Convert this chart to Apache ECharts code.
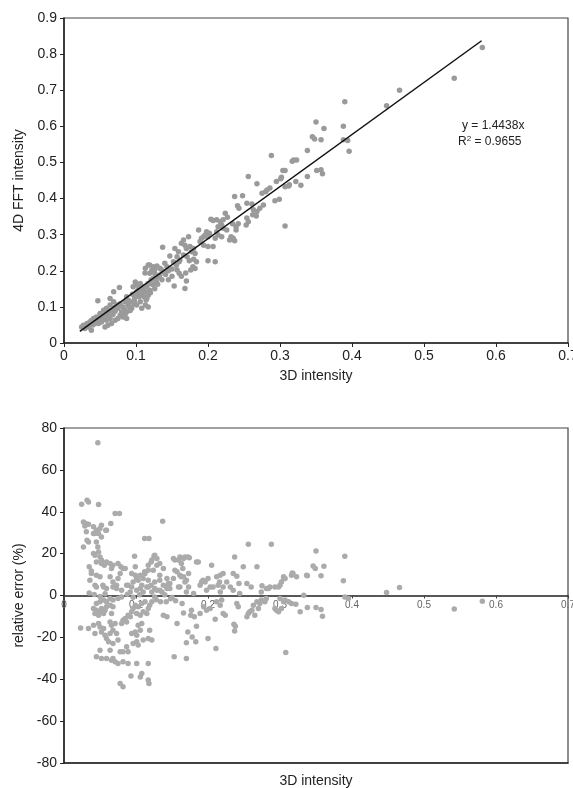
<!DOCTYPE html>
<html>
<head>
<meta charset="utf-8">
<script src="https://cdn.jsdelivr.net/npm/echarts@6/dist/echarts.min.js"></script>
<style>
html,body{margin:0;padding:0;background:#fff;overflow:hidden;}
#chart{width:573px;height:788px;}
</style>
</head>
<body>
<div id="chart"></div>
<script>
// ---- Data ----
var intensityTicksX = [0, 0.7, 0.1];        // min, max, step of the 3D intensity axis
var intensityTicksY = [0, 0.9, 0.1];        // min, max, step of the 4D FFT intensity axis
var errorTicksY = [-80, 80, 20];            // min, max, step of the relative error axis

var fitLabel = 'y = 1.4438x';
var fitR2 = '0.9655';
var fitLine = [[0.022, 0.032], [0.58, 0.837]];

var intensityPoints = [
[0.581,0.818],[0.542,0.733],[0.466,0.700],[0.448,0.657],[0.390,0.668],[0.350,0.612],[0.361,0.594],[0.388,0.600],
[0.345,0.571],[0.348,0.565],[0.357,0.563],[0.388,0.563],[0.394,0.561],[0.396,0.531],[0.338,0.533],[0.317,0.503],
[0.319,0.507],[0.323,0.507],[0.351,0.478],[0.357,0.480],[0.359,0.469],[0.338,0.461],[0.304,0.478],[0.307,0.478],
[0.322,0.447],[0.329,0.437],[0.313,0.438],[0.307,0.433],[0.302,0.459],[0.288,0.519],[0.256,0.461],[0.268,0.441],
[0.237,0.406],[0.248,0.408],[0.295,0.447],[0.301,0.455],[0.282,0.424],[0.286,0.429],[0.275,0.415],[0.280,0.419],
[0.293,0.394],[0.299,0.398],[0.307,0.324],[0.312,0.435],
[0.241,0.380],[0.243,0.373],[0.254,0.387],[0.261,0.385],[0.263,0.369],[0.268,0.364],[0.272,0.373],[0.277,0.382],
[0.254,0.346],[0.256,0.336],[0.253,0.327],[0.242,0.330],[0.239,0.322],[0.262,0.355],[0.267,0.352],[0.224,0.359],
[0.227,0.348],[0.221,0.341],[0.217,0.336],[0.212,0.341],[0.207,0.339],[0.204,0.343],[0.219,0.327],[0.214,0.322],
[0.221,0.318],[0.226,0.313],[0.234,0.330],[0.239,0.313],[0.232,0.294],[0.235,0.290],[0.230,0.285],[0.237,0.283],
[0.212,0.308],[0.214,0.299],[0.219,0.294],[0.210,0.290],[0.198,0.308],[0.202,0.304],[0.196,0.299],[0.194,0.294],
[0.200,0.294],[0.187,0.313],[0.173,0.294],[0.166,0.285],[0.163,0.276],[0.168,0.271],[0.170,0.262],[0.175,0.267],
[0.191,0.290],[0.189,0.281],[0.194,0.271],[0.180,0.262],[0.177,0.253],[0.182,0.248],[0.200,0.267],[0.207,0.267],
[0.137,0.265],[0.147,0.241],[0.154,0.262],[0.159,0.253],[0.157,0.239],[0.161,0.230],[0.152,0.225],[0.166,0.244],
[0.171,0.239],[0.174,0.228],[0.180,0.232],[0.184,0.225],[0.179,0.211],[0.182,0.206],[0.176,0.202],[0.200,0.228],
[0.210,0.225],[0.169,0.194],[0.170,0.172],[0.153,0.158],[0.168,0.151],[0.157,0.202],[0.160,0.193],[0.163,0.185],
[0.140,0.221],[0.143,0.211],[0.135,0.204],[0.138,0.197],[0.129,0.213],[0.124,0.211],[0.126,0.204],[0.122,0.202],
[0.133,0.188],[0.131,0.183],
[0.113,0.207],[0.119,0.216],[0.117,0.216],[0.133,0.207],[0.1125,0.194],[0.119,0.193],[0.126,0.193],[0.124,0.179],
[0.077,0.154],[0.069,0.142],[0.064,0.123],[0.047,0.117],[0.115,0.123],[0.117,0.100],[0.113,0.105],[0.101,0.142],
[0.106,0.132],[0.099,0.169],[0.102,0.160],[0.096,0.156],[0.106,0.165],[0.109,0.151],[0.103,0.146],[0.100,0.137],
[0.108,0.137],[0.1125,0.142],[0.115,0.156],[0.117,0.165],[0.119,0.146],[0.117,0.132],[0.114,0.119],[0.106,0.114],
[0.101,0.105],[0.108,0.096],[0.087,0.128],[0.092,0.114],[0.085,0.114],[0.089,0.105],[0.082,0.100],[0.094,0.096],
[0.087,0.086],[0.080,0.086],[0.075,0.096],[0.078,0.109],[0.073,0.105],[0.069,0.114],[0.064,0.105],[0.059,0.096],
[0.055,0.091],[0.066,0.091],[0.061,0.082],[0.057,0.077],[0.050,0.082],[0.045,0.072],[0.052,0.068],[0.041,0.068],
[0.036,0.058],[0.043,0.054],[0.032,0.054],[0.027,0.049],[0.034,0.044],[0.048,0.054],[0.052,0.058],[0.059,0.063],
[0.064,0.068],[0.078,0.077],[0.082,0.072],[0.087,0.068],[0.075,0.068],[0.071,0.063],[0.066,0.054],[0.061,0.049],
[0.057,0.044],[0.029,0.040],[0.038,0.035],[0.0245,0.044],
[0.095,0.135],[0.098,0.125],[0.104,0.128],[0.110,0.155],[0.121,0.175],[0.128,0.172],[0.123,0.162],[0.090,0.118],
[0.097,0.108],[0.071,0.088],[0.068,0.079],[0.062,0.074],[0.055,0.066],[0.050,0.063],[0.046,0.060],[0.040,0.050],
[0.031,0.046],[0.038,0.062],[0.044,0.065],[0.053,0.075],[0.058,0.086],[0.063,0.090],[0.070,0.098],[0.076,0.103],
[0.084,0.093],[0.091,0.100],[0.098,0.115],[0.111,0.128],[0.120,0.139],[0.126,0.150],[0.130,0.163],[0.136,0.175],
[0.141,0.190],[0.145,0.200],[0.150,0.205],[0.156,0.215],[0.160,0.225],[0.145,0.175],[0.150,0.185],[0.085,0.080],
[0.092,0.090]
];

var errorPoints = [
[0.047,72.9],[0.0245,43.6],[0.032,45.5],[0.034,44.7],[0.048,43.5],[0.071,39.2],[0.077,39.2],[0.137,35.5],
[0.027,35.1],[0.030,34.4],[0.034,34.0],[0.029,33.2],[0.052,33.6],[0.041,32.8],[0.045,30.4],[0.041,29.6],
[0.048,29.6],[0.052,28.0],[0.059,31.2],[0.065,34.4],[0.032,26.4],[0.027,23.2],[0.045,25.6],[0.047,23.2],
[0.112,27.2],[0.118,27.2],[0.041,20.1],[0.045,16.0],[0.050,18.4],[0.052,15.3],[0.056,14.5],[0.059,16.0],
[0.064,15.3],[0.068,14.5],[0.098,18.8],[0.125,18.9],[0.117,14.5],[0.121,16.0],[0.129,17.7],[0.035,13.7],
[0.038,11.7],[0.036,7.3],[0.045,9.7],[0.050,8.9],[0.075,15.3],[0.079,13.7],[0.082,12.9],[0.078,10.5],
[0.064,8.9],[0.068,6.5],[0.073,4.9],[0.054,4.9],[0.045,4.1],[0.094,10.5],[0.099,9.7],[0.106,9.7],
[0.112,11.3],[0.110,8.1],[0.103,7.3],[0.096,6.5],[0.089,4.9],[0.094,4.1],[0.101,2.5],[0.110,1.7],
[0.117,4.1],[0.121,4.9],[0.126,6.5],[0.133,7.3],[0.138,4.9],[0.145,5.7],[0.143,4.1],[0.136,1.7],
[0.129,2.5],[0.122,1.7],[0.152,17.7],[0.163,15.3],[0.165,12.9],[0.157,11.3],[0.161,9.7],[0.168,18.4],
[0.172,18.4],[0.163,8.9],[0.168,6.5],[0.161,4.1],[0.170,1.7],
[0.1865,16.0],[0.205,14.5],[0.193,7.3],[0.196,6.5],[0.200,8.1],[0.207,4.1],[0.189,4.9],[0.212,8.9],
[0.217,9.7],[0.221,10.5],[0.226,6.5],[0.231,4.1],[0.235,10.5],[0.237,18.4],[0.243,5.7],[0.249,13.7],
[0.254,5.7],[0.256,24.5],[0.260,4.1],[0.268,13.7],[0.274,1.7],[0.281,3.3],[0.286,4.1],[0.288,24.5],
[0.293,4.1],[0.298,4.1],[0.302,6.5],[0.305,8.9],[0.318,10.5],[0.323,8.9],[0.235,2.5],[0.244,0.9],
[0.217,1.7],[0.198,2.5],[0.180,0.9],
[0.350,21.3],[0.390,18.8],[0.346,14.1],[0.349,12.9],[0.361,14.0],[0.357,9.4],[0.338,9.4],[0.317,10.8],
[0.307,8.1],[0.388,7.0],[0.448,1.4],[0.466,3.8],[0.333,0.1],[0.390,-0.7],[0.395,-1.4],[0.542,-6.5],
[0.581,-2.7],[0.305,-3.0],[0.312,-3.0],[0.316,-3.8],[0.322,-4.2],[0.328,-7.8],[0.338,-5.7],[0.350,-5.7],
[0.357,-6.7],[0.359,-9.9],[0.302,-6.2],
[0.308,-27.2],[0.211,-25.3],[0.200,-20.5],[0.183,-22.1],[0.178,-19.8],[0.184,-14.7],[0.210,-11.3],[0.237,-16.9],
[0.236,-13.7],[0.238,-14.7],[0.224,-9.4],[0.221,-8.6],[0.203,-6.2],[0.198,-7.0],[0.194,-5.4],[0.189,-8.6],
[0.181,-10.2],[0.177,-7.0],[0.217,-4.6],[0.212,-3.0],[0.219,-2.2],[0.240,-3.8],[0.242,-5.4],[0.254,-10.2],
[0.256,-8.6],[0.258,-7.8],[0.261,-7.0],[0.265,-9.4],[0.270,-6.2],[0.263,-4.6],[0.268,-3.0],[0.272,-3.8],
[0.274,-2.2],[0.279,-3.0],[0.281,-1.4],[0.295,-7.0],[0.298,-7.8],[0.293,-6.2],[0.300,-1.4],[0.307,-2.2],
[0.240,9.2],[0.191,6.5],[0.203,4.1],[0.216,6.5],[0.214,4.9],[0.221,4.1],[0.275,4.6],[0.284,3.3],
[0.300,4.9],[0.305,8.1],[0.316,9.7],[0.337,9.7],
[0.041,-6.2],[0.045,-7.0],[0.050,-7.8],[0.043,-8.6],[0.048,-9.4],[0.052,-6.2],[0.057,-7.0],[0.055,-8.6],
[0.059,-5.4],[0.064,-4.6],[0.068,-5.4],[0.066,-8.6],[0.045,-3.8],[0.050,-3.0],[0.055,-2.2],[0.059,-3.0],
[0.064,-1.4],[0.068,-2.2],[0.075,-1.4],[0.080,-0.7],
[0.034,-15.8],[0.041,-14.2],[0.043,-18.1],[0.048,-13.4],[0.050,-15.0],[0.052,-17.4],[0.055,-15.8],[0.057,-19.0],
[0.059,-20.5],[0.064,-12.6],[0.066,-14.2],[0.068,-16.6],[0.071,-13.4],[0.073,-18.1],[0.064,-18.1],[0.062,-22.1],
[0.068,-22.9],[0.075,-21.3],[0.080,-13.4],[0.082,-11.8],[0.085,-11.0],[0.087,-12.6],[0.092,-10.2],[0.089,-9.4],
[0.094,-7.8],[0.096,-6.2],[0.099,-4.6],[0.103,-5.4],[0.108,-3.8],[0.1125,-3.0],[0.117,-6.2],[0.119,-4.6],
[0.122,-3.0],[0.115,-8.6],[0.110,-7.8],[0.106,-9.4],[0.101,-8.6],[0.103,-14.2],[0.108,-13.4],[0.099,-17.4],
[0.094,-18.1],[0.101,-19.0],[0.106,-16.6],[0.110,-21.3],[0.117,-20.5],[0.119,-16.6],[0.122,-21.3],[0.101,-22.1],
[0.096,-22.9],[0.103,-23.7],[0.087,-24.5],[0.082,-26.9],[0.089,-26.9],[0.078,-26.9],[0.064,-26.1],[0.050,-26.1],
[0.045,-29.3],[0.052,-30.1],[0.059,-30.1],[0.066,-30.9],[0.068,-30.1],[0.071,-31.7],[0.075,-32.5],[0.082,-31.7],
[0.089,-32.5],[0.101,-32.5],[0.117,-32.5],[0.108,-37.2],[0.106,-38.9],[0.117,-40.4],[0.118,-42.0],[0.093,-38.5],
[0.078,-42.0],[0.082,-43.6],[0.023,-15.5],
[0.157,-13.4],[0.172,-17.4],[0.170,-22.6],[0.166,-8.3],[0.176,-9.4],[0.153,-29.3],[0.170,-30.1],[0.138,-9.4],
[0.143,-10.2],
[0.045,31.2],[0.043,29.6],[0.050,32.0],[0.058,31.2],[0.031,30.4],[0.034,25.6],[0.048,20.8],[0.043,19.2],
[0.052,16.9],[0.057,15.3],[0.066,12.9],[0.038,10.5],[0.043,4.9],[0.055,4.1],[0.059,3.3],[0.068,4.1],
[0.073,3.3],[0.075,8.1],[0.085,12.9],[0.101,8.1],[0.099,13.7],[0.1125,10.5],[0.117,12.1],[0.124,12.1],
[0.129,14.5],[0.126,19.2],[0.122,16.9],[0.133,15.3],[0.138,12.9],[0.143,8.1],[0.133,9.7],[0.117,7.3],
[0.108,4.9],[0.087,4.9],[0.080,2.5],[0.092,1.7],[0.106,3.3],[0.115,4.1],[0.126,3.3],[0.133,2.5],
[0.143,3.3],[0.147,5.7],[0.152,8.1],[0.154,12.1],[0.159,16.9],[0.161,18.4],[0.166,8.9],[0.173,10.5],
[0.170,7.3],[0.173,4.1],[0.159,4.1],[0.147,3.3],[0.154,16.9],[0.166,17.7],[0.174,18.0],[0.184,16.0],
[0.035,1.2],[0.042,0.5],[0.050,-0.5],[0.057,0.8],[0.088,0.6],[0.096,-0.8],[0.105,0.3],[0.126,-0.7],
[0.140,0.4],[0.150,-0.9],[0.128,-2.0],[0.134,-3.0],[0.142,-3.0],[0.148,-1.5],[0.155,-2.5],[0.164,-3.8]
];

// ---- Chart ----
var FONT = "'Liberation Sans', Arial, sans-serif";
var chart = echarts.init(document.getElementById('chart'), null, {renderer: 'canvas'});

function fmt(v) { return String(Math.round(v * 1000) / 1000); }

var axisLineStyle = {color: '#222', width: 1.5};
var PLOT2_HEIGHT = 335;

var option = {
  animation: false,
  backgroundColor: '#fff',
  textStyle: {fontFamily: FONT},
  grid: [
    {left: 64, top: 18, width: 504, height: 325, outerBoundsMode: 'none', containLabel: false,
     show: true, borderColor: '#444', borderWidth: 1.2, backgroundColor: 'transparent'},
    {left: 64, top: 428, width: 504, height: PLOT2_HEIGHT, outerBoundsMode: 'none', containLabel: false,
     show: true, borderColor: '#444', borderWidth: 1.2, backgroundColor: 'transparent'}
  ],
  xAxis: [
    {
      gridIndex: 0, type: 'value', position: 'bottom',
      min: intensityTicksX[0], max: intensityTicksX[1], interval: intensityTicksX[2],
      name: '3D intensity', nameLocation: 'middle', nameGap: 26,
      nameTextStyle: {fontSize: 14, color: '#222', fontFamily: FONT},
      axisLine: {show: true, onZero: false, lineStyle: axisLineStyle},
      axisTick: {show: true, length: 4, lineStyle: {color: '#222'}},
      axisLabel: {fontSize: 14, color: '#222', margin: 6, fontFamily: FONT, formatter: fmt, hideOverlap: false},
      splitLine: {show: false}
    },
    {
      // zero line of the relative error plot, with its small labels under it
      gridIndex: 1, type: 'value', position: 'top', offset: -PLOT2_HEIGHT / 2,
      min: intensityTicksX[0], max: intensityTicksX[1], interval: intensityTicksX[2],
      axisLine: {show: true, onZero: false, lineStyle: axisLineStyle},
      axisTick: {show: true, inside: true, length: 3, lineStyle: {color: '#444'}},
      axisLabel: {show: true, inside: true, fontSize: 10, color: '#666', margin: 5, fontFamily: FONT, formatter: fmt, hideOverlap: false},
      splitLine: {show: false}
    },
    {
      gridIndex: 1, type: 'value', position: 'bottom',
      min: intensityTicksX[0], max: intensityTicksX[1], interval: intensityTicksX[2],
      name: '3D intensity', nameLocation: 'middle', nameGap: 11,
      nameTextStyle: {fontSize: 14, color: '#222', fontFamily: FONT},
      axisLine: {show: true, onZero: false, lineStyle: axisLineStyle},
      axisTick: {show: false},
      axisLabel: {show: false},
      splitLine: {show: false}
    }
  ],
  yAxis: [
    {
      gridIndex: 0, type: 'value',
      min: intensityTicksY[0], max: intensityTicksY[1], interval: intensityTicksY[2],
      name: '4D FFT intensity', nameLocation: 'middle', nameGap: 36,
      nameTextStyle: {fontSize: 14, color: '#222', fontFamily: FONT},
      axisLine: {show: true, onZero: false, lineStyle: axisLineStyle},
      axisTick: {show: true, length: 4, lineStyle: {color: '#222'}},
      axisLabel: {fontSize: 14, color: '#222', margin: 7, fontFamily: FONT, formatter: fmt},
      splitLine: {show: false}
    },
    {
      gridIndex: 1, type: 'value',
      min: errorTicksY[0], max: errorTicksY[1], interval: errorTicksY[2],
      name: 'relative error (%)', nameLocation: 'middle', nameGap: 36,
      nameTextStyle: {fontSize: 14, color: '#222', fontFamily: FONT},
      axisLine: {show: true, onZero: false, lineStyle: axisLineStyle},
      axisTick: {show: true, length: 4, lineStyle: {color: '#222'}},
      axisLabel: {fontSize: 14, color: '#222', margin: 7, fontFamily: FONT},
      splitLine: {show: false}
    }
  ],
  series: [
    {
      type: 'scatter', xAxisIndex: 0, yAxisIndex: 0,
      data: intensityPoints, symbolSize: 5.5,
      itemStyle: {color: '#9a9a9a', opacity: 1}
    },
    {
      type: 'line', xAxisIndex: 0, yAxisIndex: 0,
      data: fitLine, symbol: 'none',
      lineStyle: {color: '#111', width: 1.5}, z: 5
    },
    {
      type: 'scatter', xAxisIndex: 1, yAxisIndex: 1,
      data: errorPoints, symbolSize: 5.5,
      itemStyle: {color: '#ababab', opacity: 1}
    }
  ],
  graphic: [
    {
      type: 'text', left: 462, top: 120,
      style: {text: fitLabel, fontSize: 12, fill: '#222', fontFamily: FONT}
    },
    {
      type: 'text', left: 458, top: 135,
      style: {
        text: 'R{sup|2} = ' + fitR2, fontSize: 12, fill: '#222', fontFamily: FONT,
        rich: {sup: {fontSize: 8, verticalAlign: 'top', padding: [0, 0, 6, 0], fill: '#222', fontFamily: FONT}}
      }
    }
  ]
};
chart.setOption(option);
</script>
</body>
</html>
